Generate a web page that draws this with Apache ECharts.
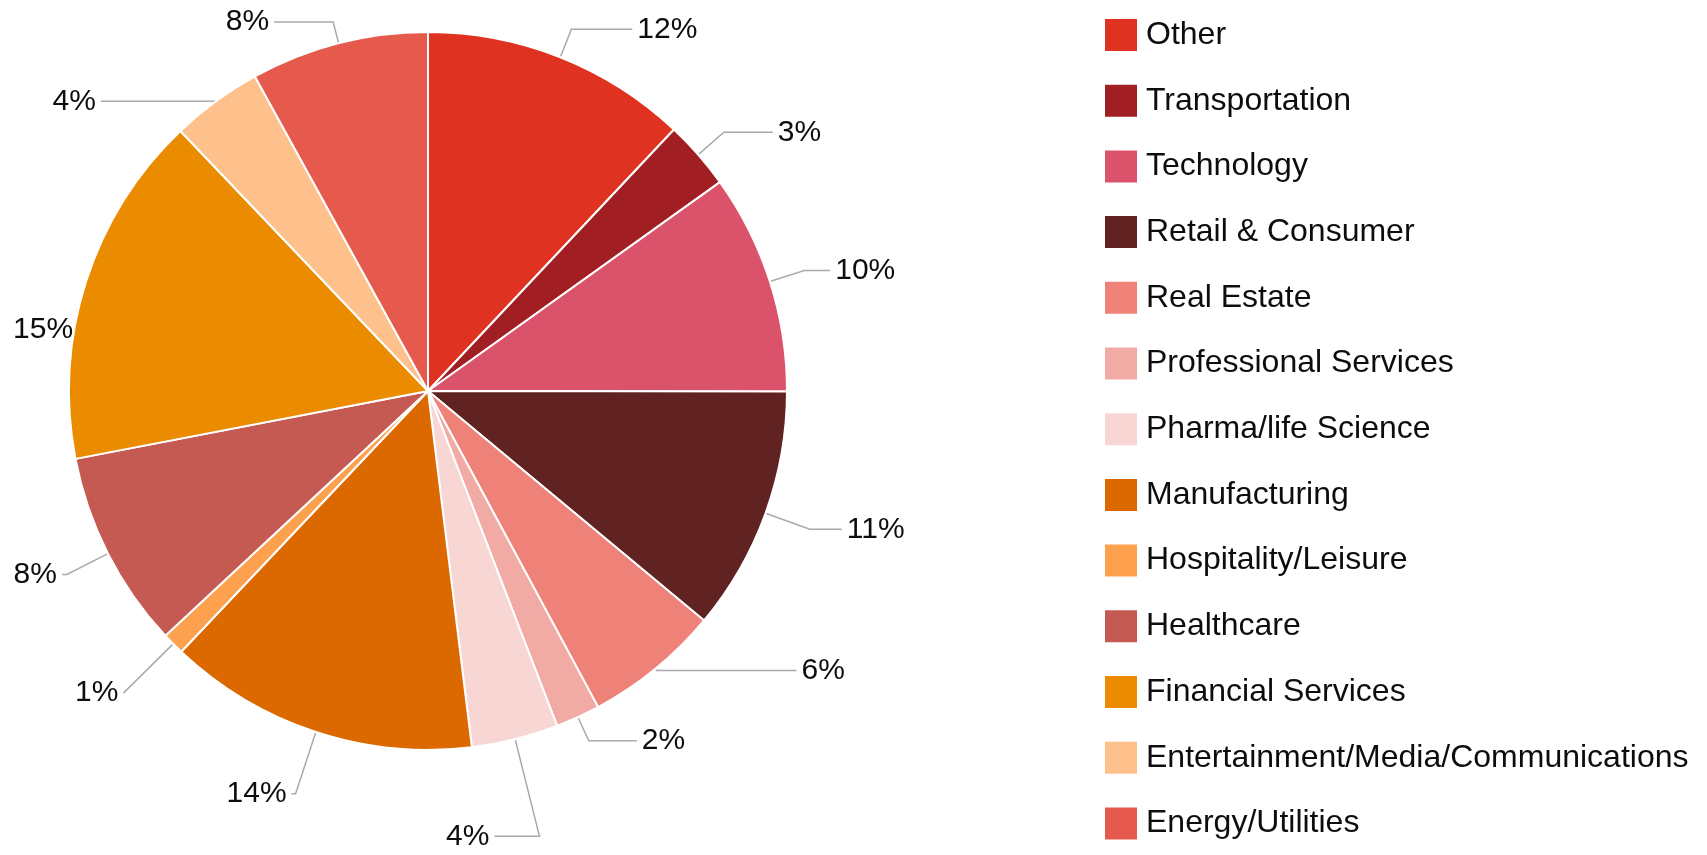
<!DOCTYPE html>
<html>
<head>
<meta charset="utf-8">
<style>
  html, body { margin: 0; padding: 0; background: #fff; }
  #main { width: 1707px; height: 855px; }
</style>
<script src="https://cdn.jsdelivr.net/npm/echarts@6/dist/echarts.min.js"></script>
</head>
<body>
<div id="main"></div>
<script>
// industries, clockwise from 12 o'clock
var categories = ['Other', 'Transportation', 'Technology', 'Retail & Consumer', 'Real Estate',
  'Professional Services', 'Pharma/life Science', 'Manufacturing', 'Hospitality/Leisure',
  'Healthcare', 'Financial Services', 'Entertainment/Media/Communications', 'Energy/Utilities'];
// share of total (%)
var shares = [12.0, 3.1, 9.9, 11.0, 6.1, 2.0, 3.9, 14.0, 1.0, 8.9, 15.9, 4.1, 8.0];
// label text as printed on the chart
var shareLabels = ['12%', '3%', '10%', '11%', '6%', '2%', '4%', '14%', '1%', '8%', '15%', '4%', '8%'];
var colors = ['#e03220', '#a11f22', '#db536b', '#612222', '#ee8279', '#f2aba4', '#f8d6d3',
  '#dc6800', '#fea14f', '#c55a53', '#ea8b00', '#fec18c', '#e55a4c'];
// leader lines: radial part and horizontal part, per slice
var leaderLen1 = [30, 34, 36, 47, 2, 26, 100, 65, 70, 46, 0, 0, 22];
var leaderLen2 = [61, 49, 26, 32, 140, 48, 45, 4, 0, 5, 0, 115, 59];
// labels drawn on the other side of their leader line
var flipSide = [0, 0, 0, 0, 0, 0, 1, 0, 0, 0, 0, 0, 0];
// nudge of a label that has no leader line
var labelDx = [0, 0, 0, 0, 0, 0, 0, 0, 0, 0, -8, 0, 0];
var labelDy = [0, 0, 0, 0, 0, 0, 0, 0, 0, 0, 48, 0, 0];

var myChart = echarts.init(document.getElementById('main'));

var pieData = categories.map(function (name, i) {
  var noLine = leaderLen1[i] === 0 && leaderLen2[i] === 0;
  return {
    name: name,
    value: shares[i],
    labelLine: { show: !noLine, length: leaderLen1[i], length2: leaderLen2[i] }
  };
});

var option = {
  animation: false,
  color: colors,
  textStyle: { fontFamily: "'Liberation Sans', Arial, sans-serif" },
  legend: {
    orient: 'vertical',
    left: 1098,
    top: 12,
    icon: 'rect',
    itemWidth: 34,
    itemHeight: 34,
    itemGap: 29.7,
    textStyle: { fontSize: 32, lineHeight: 34, color: '#0d0d0d', padding: [0, 0, 0, 3] },
    data: categories
  },
  series: [{
    type: 'pie',
    center: [428, 391],
    radius: 359,
    startAngle: 90,
    clockwise: true,
    data: pieData,
    itemStyle: { borderColor: '#fff', borderWidth: 2 },
    label: {
      show: true,
      position: 'outside',
      fontSize: 30,
      color: '#0d0d0d',
      overflow: 'none',
      formatter: function (p) { return shareLabels[p.dataIndex]; }
    },
    labelLine: {
      show: true,
      lineStyle: { color: '#aaa', width: 1.5 }
    },
    labelLayout: function (params) {
      var i = params.dataIndex;
      var pts = params.labelLinePoints;
      if (flipSide[i] && pts) {
        var elbow = pts[1];
        var end = [elbow[0] - leaderLen2[i], elbow[1]];
        return {
          x: end[0] - 5,
          y: elbow[1],
          align: 'right',
          verticalAlign: 'middle',
          labelLinePoints: [pts[0], elbow, end]
        };
      }
      if (labelDx[i] || labelDy[i]) {
        return { dx: labelDx[i], dy: labelDy[i] };
      }
      return {};
    },
    emphasis: { disabled: true }
  }]
};

myChart.setOption(option);
</script>
</body>
</html>
